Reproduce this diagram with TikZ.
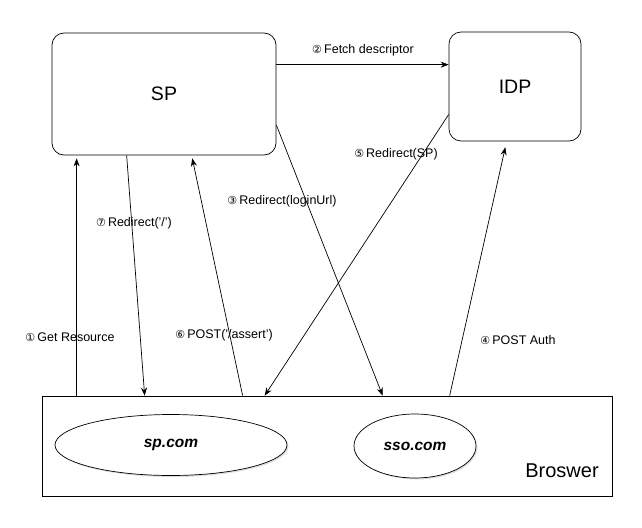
\documentclass[tikz,border=0pt]{standalone}
\usepackage{fontspec}
\setmainfont{Liberation Sans}
\newfontfamily\circfont{DejaVu Sans}
\usetikzlibrary{shapes.geometric,shadows,arrows.meta}
\newcommand{\stepno}[1]{{\circfont\fontsize{11}{13}\selectfont #1}\,}

\begin{document}
\begin{tikzpicture}[x=1pt,y=-1pt,>={Stealth[length=8pt,width=6pt]},line width=0.7pt,
    box node/.style={draw,rounded corners=12pt,font=\fontsize{19.5}{22}\selectfont},
    site node/.style={ellipse,draw,fill=white,font=\fontsize{15.5}{18}\selectfont\bfseries\itshape,
        drop shadow={shadow xshift=1.5pt,shadow yshift=-1.5pt,opacity=0.25}},
    flow label/.style={font=\fontsize{12.5}{14}\selectfont}]
    \useasboundingbox (0,0) rectangle (642,527);

    \node[box node,minimum width=224pt,minimum height=122pt] (sp) at (164,94) {SP};
    \node[box node,minimum width=132pt,minimum height=109pt] (idp) at (515,86.5) {IDP};
    \node[draw,minimum width=570pt,minimum height=100pt] (browser) at (327,446) {};
    \node[site node,minimum width=232pt,minimum height=61pt] (spcom) at (171,445) {sp.com};
    \node[site node,minimum width=122pt,minimum height=64pt] (ssocom) at (415,446) {sso.com};
    \node[font=\fontsize{20}{24}\selectfont,anchor=east] (brlabel) at ([xshift=-10pt,yshift=-25pt]browser.east) {Broswer};

    % flows
    \draw[->] ([yshift=-32pt]sp.north east) -- ([yshift=-33pt]idp.north west);
    \draw[->,shorten >=3pt] ([xshift=35pt]browser.north west) -- ([xshift=25pt]sp.south west);
    \draw[->] ([xshift=75pt]sp.south west) -- ([xshift=103pt]browser.north west);
    \draw[->,shorten >=3pt] ([xshift=201pt]browser.north west) -- ([xshift=140pt]sp.south west);
    \draw[->] ([yshift=-31pt]sp.east) -- ([xshift=341pt]browser.north west);
    \draw[->] ([yshift=-28pt]idp.west) -- ([xshift=223pt]browser.north west);
    \draw[->,shorten >=6pt] ([xshift=408pt]browser.north west) -- ([xshift=58pt]idp.south west);

    \node[flow label] (fetch) at (363,50) {\stepno{②}Fetch descriptor};
    \node[flow label] (getres) at (70,337) {\stepno{①}Get Resource};
    \node[flow label] (redirroot) at (134,223) {\stepno{⑦}Redirect('/')};
    \node[flow label] (postassert) at (224,335) {\stepno{⑥}POST('/assert')};
    \node[flow label] (redirlogin) at (282,201) {\stepno{③}Redirect(loginUrl)};
    \node[flow label] (redirsp) at (396,154) {\stepno{⑤}Redirect(SP)};
    \node[flow label] (postauth) at (518,340) {\stepno{④}POST Auth};
\end{tikzpicture}
\end{document}
